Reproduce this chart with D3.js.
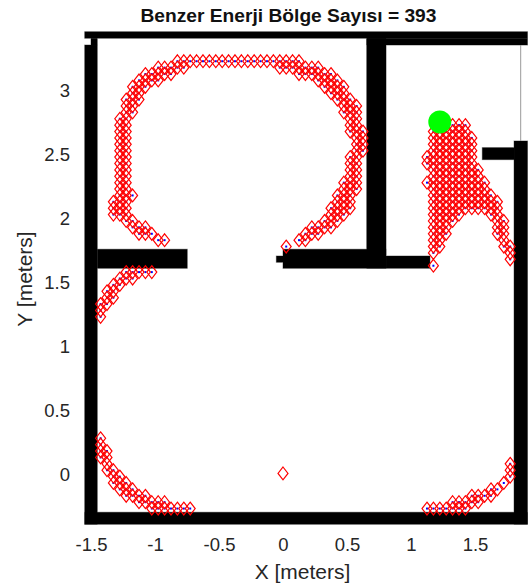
<!DOCTYPE html>
<html>
<head>
<meta charset="utf-8">
<script src="https://d3js.org/d3.v7.min.js"></script>
<style>
  html, body { margin: 0; padding: 0; background: #fff; }
  svg { display: block; }
  text { font-family: "Liberation Sans", Arial, sans-serif; fill: #262626; }
</style>
</head>
<body>
<svg width="528" height="584"></svg>
<script>
var titleText = "Benzer Enerji Bölge Sayısı = 393";
var xLabel = "X [meters]";
var yLabel = "Y [meters]";
var xTicks = [-1.5, -1, -0.5, 0, 0.5, 1, 1.5];
var yTicks = [0, 0.5, 1, 1.5, 2, 2.5, 3];

// map walls in meters: [x0, x1, y0, y1]
var walls = [
    [-1.549, 1.91, 3.405, 3.456],
    [-1.5, -1.451, 3.352, 3.405],
    [-1.549, -1.451, -0.398, 3.352],
    [-1.549, 1.91, -0.398, -0.304],
    [1.805, 1.91, -0.398, 2.601],
    [-1.451, -0.748, 1.605, 1.754],
    [0, 0.805, 1.605, 1.754],
    [-0.052, 0, 1.652, 1.701],
    [0.805, 1.148, 1.605, 1.701],
    [0.654, 0.805, 1.605, 3.405],
    [0.654, 1.91, 3.352, 3.405],
    [1.557, 1.805, 2.455, 2.549]
];
var roomEdge = [1.857, 2.601, 3.352];

var source = [1.225, 2.75];
var plainDiamond = [0, 0];

// similar energy points, each row is [y, [x...]]
var upperArc = [
    [3.225, [-0.825, -0.775, -0.725, -0.675, -0.625, -0.575, -0.525, -0.475, -0.425, -0.375, -0.325, -0.275, -0.225, -0.175, -0.125, -0.075, -0.025, 0.025, 0.075, 0.125]],
    [3.175, [-0.975, -0.925, -0.875, -0.825, -0.775, -0.025, 0.025, 0.075, 0.125, 0.175, 0.225, 0.275]],
    [3.125, [-1.075, -1.025, -0.975, -0.925, -0.875, 0.125, 0.175, 0.225, 0.275, 0.325, 0.375]],
    [3.075, [-1.125, -1.075, -1.025, -0.975, 0.275, 0.325, 0.375, 0.425]],
    [3.025, [-1.175, -1.125, -1.075, 0.325, 0.375, 0.425, 0.475]],
    [2.975, [-1.175, -1.125, 0.375, 0.425, 0.475]],
    [2.925, [-1.225, -1.175, -1.125, 0.425, 0.475, 0.525]],
    [2.875, [-1.225, -1.175, 0.475, 0.525, 0.575]],
    [2.825, [-1.225, -1.175, 0.475, 0.525, 0.575]],
    [2.775, [-1.275, -1.225, 0.525, 0.575]],
    [2.725, [-1.275, -1.225, 0.525, 0.575]],
    [2.675, [-1.275, -1.225, 0.525, 0.575, 0.625]],
    [2.625, [-1.275, -1.225, 0.575, 0.625]],
    [2.575, [-1.275, -1.225, 0.575, 0.625]],
    [2.525, [-1.275, -1.225, 0.575, 0.625]],
    [2.475, [-1.275, -1.225, 0.525, 0.575]],
    [2.425, [-1.275, -1.225, 0.525, 0.575]],
    [2.375, [-1.275, -1.225, 0.525, 0.575]],
    [2.325, [-1.275, -1.225, 0.525, 0.575]],
    [2.275, [-1.275, -1.225, 0.475, 0.525, 0.575]],
    [2.225, [-1.275, -1.225, 0.475, 0.525, 0.575]],
    [2.175, [-1.275, -1.225, -1.175, 0.425, 0.475, 0.525]],
    [2.125, [-1.325, -1.275, -1.225, 0.425, 0.475, 0.525]],
    [2.075, [-1.325, -1.275, -1.225, 0.375, 0.425, 0.475, 0.525]],
    [2.025, [-1.325, -1.275, -1.225, 0.375, 0.425, 0.475]],
    [1.975, [-1.225, -1.175, 0.325, 0.375, 0.425]],
    [1.925, [-1.175, -1.125, -1.075, 0.225, 0.275, 0.325, 0.375]],
    [1.875, [-1.125, -1.075, -1.025, 0.175, 0.225, 0.275]],
    [1.825, [-0.975, -0.925, 0.125, 0.175]],
    [1.775, [0.025]]
];
var lowerLeftArc = [
    [1.575, [-1.225, -1.175, -1.125, -1.075, -1.025]],
    [1.525, [-1.275, -1.225, -1.175]],
    [1.475, [-1.325, -1.275]],
    [1.425, [-1.375, -1.325]],
    [1.375, [-1.375, -1.325]],
    [1.325, [-1.425, -1.375]],
    [1.275, [-1.425]],
    [1.225, [-1.425]]
];
var bottomLeftArc = [
    [0.275, [-1.425]],
    [0.225, [-1.425]],
    [0.175, [-1.425, -1.375]],
    [0.125, [-1.425, -1.375]],
    [0.075, [-1.375]],
    [0.025, [-1.375, -1.325]],
    [-0.025, [-1.325, -1.275]],
    [-0.075, [-1.325, -1.275, -1.225]],
    [-0.125, [-1.275, -1.225, -1.175]],
    [-0.175, [-1.225, -1.175, -1.125, -1.075]],
    [-0.225, [-1.125, -1.075, -1.025, -0.975, -0.925]],
    [-0.275, [-1.025, -0.975, -0.925, -0.875, -0.825, -0.775, -0.725]]
];
var bottomRightArc = [
    [0.075, [1.775]],
    [0.025, [1.775]],
    [-0.025, [1.775]],
    [-0.075, [1.725]],
    [-0.125, [1.625, 1.675]],
    [-0.175, [1.475, 1.525, 1.575, 1.625]],
    [-0.225, [1.325, 1.375, 1.425, 1.475, 1.525]],
    [-0.275, [1.125, 1.175, 1.225, 1.275, 1.325, 1.375, 1.425]]
];
var roomFan = [
    [2.725, [1.325, 1.375, 1.425]],
    [2.675, [1.175, 1.225, 1.275, 1.325, 1.375, 1.425]],
    [2.625, [1.175, 1.225, 1.275, 1.325, 1.375, 1.425, 1.475]],
    [2.575, [1.175, 1.225, 1.275, 1.325, 1.375, 1.425, 1.475]],
    [2.525, [1.175, 1.225, 1.275, 1.325, 1.375, 1.425, 1.475]],
    [2.475, [1.125, 1.175, 1.225, 1.275, 1.325, 1.375, 1.425, 1.475]],
    [2.425, [1.125, 1.175, 1.225, 1.275, 1.325, 1.375, 1.425, 1.475]],
    [2.375, [1.175, 1.225, 1.275, 1.325, 1.375, 1.425, 1.475, 1.525]],
    [2.325, [1.175, 1.225, 1.275, 1.325, 1.375, 1.425, 1.475, 1.525]],
    [2.275, [1.125, 1.175, 1.225, 1.275, 1.325, 1.375, 1.425, 1.475, 1.525, 1.575]],
    [2.225, [1.175, 1.225, 1.275, 1.325, 1.375, 1.425, 1.475, 1.525, 1.575]],
    [2.175, [1.175, 1.225, 1.275, 1.325, 1.375, 1.425, 1.475, 1.525, 1.575, 1.625]],
    [2.125, [1.175, 1.225, 1.275, 1.325, 1.375, 1.425, 1.475, 1.525, 1.575, 1.625, 1.675]],
    [2.075, [1.175, 1.225, 1.275, 1.325, 1.375, 1.425, 1.475, 1.525, 1.575, 1.625, 1.675]],
    [2.025, [1.175, 1.225, 1.275, 1.325, 1.375, 1.625, 1.675]],
    [1.975, [1.175, 1.225, 1.275, 1.325, 1.675, 1.725]],
    [1.925, [1.175, 1.225, 1.275, 1.675, 1.725]],
    [1.875, [1.175, 1.225, 1.275, 1.675, 1.725]],
    [1.825, [1.175, 1.225, 1.725]],
    [1.775, [1.175, 1.225, 1.725, 1.775]],
    [1.725, [1.175, 1.775]],
    [1.675, [1.775]],
    [1.625, [1.175]]
];

var svg = d3.select("svg");

var x = d3.scaleLinear().domain([-1.5, 1.5]).range([91, 475]);
var y = d3.scaleLinear().domain([0, 3]).range([473.4, 90]);

// flatten rows to points
var points = [];
[upperArc, lowerLeftArc, bottomLeftArc, bottomRightArc, roomFan].forEach(function(rows) {
    rows.forEach(function(row) {
        row[1].forEach(function(px) {
            points.push([px, row[0]]);
        });
    });
});

function wallRects(g) {
    g.attr("x", function(d) { return x(d[0]); })
        .attr("y", function(d) { return y(d[3]); })
        .attr("width", function(d) { return x(d[1]) - x(d[0]); })
        .attr("height", function(d) { return y(d[2]) - y(d[3]); });
}

// grey fringe under the black, the map image was resampled
svg.append("g").selectAll("rect").data(walls).enter().append("rect")
    .call(wallRects)
    .attr("fill", "none")
    .attr("stroke", "#999")
    .attr("stroke-width", 1);

svg.append("line")
    .attr("x1", x(roomEdge[0])).attr("x2", x(roomEdge[0]))
    .attr("y1", y(roomEdge[1])).attr("y2", y(roomEdge[2]))
    .attr("stroke", "#999")
    .attr("stroke-width", 1);

svg.append("g").selectAll("rect").data(walls).enter().append("rect")
    .call(wallRects)
    .attr("fill", "#000");

// blue centers first, the red diamonds sit on top
svg.append("g").selectAll("rect").data(points).enter().append("rect")
    .attr("x", function(d) { return x(d[0]) - 1; })
    .attr("y", function(d) { return y(d[1]) - 1; })
    .attr("width", 2)
    .attr("height", 2)
    .attr("fill", "#0000ff");

// matlab diamond is narrower than it is tall
var thinDiamond = {
    draw: function(context, size) {
        var h = Math.sqrt(size), w = h * 0.78;
        context.moveTo(0, -h);
        context.lineTo(w, 0);
        context.lineTo(0, h);
        context.lineTo(-w, 0);
        context.closePath();
    }
};
var diamond = d3.symbol().type(thinDiamond).size(41);

svg.append("g").selectAll("path").data(points.concat([plainDiamond])).enter().append("path")
    .attr("d", diamond)
    .attr("transform", function(d) { return "translate(" + x(d[0]) + "," + y(d[1]) + ")"; })
    .attr("fill", "none")
    .attr("stroke", "#ff0000")
    .attr("stroke-width", 1.2);

svg.append("circle")
    .attr("cx", x(source[0]))
    .attr("cy", y(source[1]))
    .attr("r", 11.5)
    .attr("fill", "#00ff00");

var xAxis = svg.append("g")
    .attr("transform", "translate(0,538)")
    .call(d3.axisBottom(x).tickValues(xTicks).tickSize(0).tickPadding(0).tickFormat(String));
var yAxis = svg.append("g")
    .attr("transform", "translate(70,1)")
    .call(d3.axisLeft(y).tickValues(yTicks).tickSize(0).tickPadding(0).tickFormat(String));

xAxis.select(".domain").remove();
yAxis.select(".domain").remove();
svg.selectAll(".tick text")
    .style("font-family", '"Liberation Sans", Arial, sans-serif')
    .style("font-size", "18.5px")
    .style("fill", "#262626");

svg.append("text")
    .attr("x", 288.5)
    .attr("y", 22)
    .attr("text-anchor", "middle")
    .style("font-size", "19.2px")
    .style("font-weight", "bold")
    .style("fill", "#111")
    .text(titleText);

svg.append("text")
    .attr("x", 302.5)
    .attr("y", 579)
    .attr("text-anchor", "middle")
    .style("font-size", "21px")
    .text(xLabel);

svg.append("text")
    .attr("transform", "translate(32,279) rotate(-90)")
    .attr("text-anchor", "middle")
    .style("font-size", "21px")
    .text(yLabel);
</script>
</body>
</html>
